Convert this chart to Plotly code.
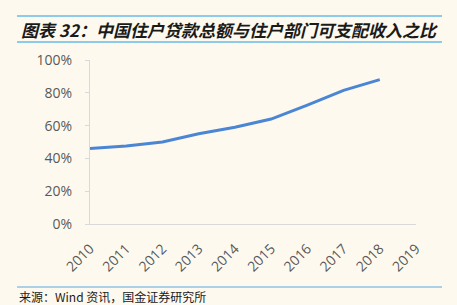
import plotly.graph_objects as go

years = ["2010", "2011", "2012", "2013", "2014", "2015", "2016", "2017", "2018", "2019"]
ratio = [0.46, 0.475, 0.50, 0.55, 0.59, 0.64, 0.725, 0.815, 0.88, None]
yticks = [0, 0.2, 0.4, 0.6, 0.8, 1.0]
ytick_labels = ["0%", "20%", "40%", "60%", "80%", "100%"]

title_text = "图表 32：中国住户贷款总额与住户部门可支配收入之比"
source_text = "来源：Wind 资讯，国金证券研究所"

W, H = 457, 305
L, R, T, B = 90, 41, 60, 81
pw, ph = W - L - R, H - T - B

def px(x):
    return (x - L) / pw

def py(y):
    return (H - B - y) / ph

bg = "#FEF9EF"
fig = go.Figure()
fig.add_trace(go.Scatter(
    x=years, y=ratio, mode="lines",
    line=dict(color="#4A86D4", width=3),
    hoverinfo="skip", showlegend=False,
))

fig.update_layout(
    width=W, height=H,
    margin=dict(l=L, r=R, t=T, b=B),
    paper_bgcolor=bg, plot_bgcolor=bg,
    font=dict(family="Noto Sans CJK SC, sans-serif"),
    xaxis=dict(
        type="category", showgrid=False, showline=True, linecolor="#D9D9D9", linewidth=1,
        ticks="", tickangle=-45, ticklabelstandoff=10,
        tickfont=dict(size=14, color="#595959", family="Open Sans, sans-serif"),
        fixedrange=True,
    ),
    yaxis=dict(
        range=[0, 1.0], tickvals=yticks, ticktext=ytick_labels, showgrid=False, zeroline=False,
        showline=True, linecolor="#D9D9D9", linewidth=1, ticks="outside", ticklen=4,
        tickcolor="#D9D9D9", tickfont=dict(size=14, color="#595959", family="Open Sans, sans-serif"),
        ticklabelstandoff=10,
    ),
    shapes=[
        dict(type="line", xref="paper", yref="paper", x0=px(17), x1=px(442), y0=py(16), y1=py(16),
             line=dict(color="#8DCBEA", width=2)),
        dict(type="line", xref="paper", yref="paper", x0=px(17), x1=px(442), y0=py(42), y1=py(42),
             line=dict(color="#8DCBEA", width=2)),
        dict(type="line", xref="paper", yref="paper", x0=px(17), x1=px(442), y0=py(287), y1=py(287),
             line=dict(color="#5BA8DD", width=1)),
    ],
    annotations=[
        dict(text="<b><i>" + title_text + "</i></b>", xref="paper", yref="paper",
             x=px(19), y=py(29), xanchor="left", yanchor="middle", showarrow=False,
             font=dict(size=17, color="#1a1a1a", family="Noto Sans CJK SC")),
        dict(text=source_text, xref="paper", yref="paper",
             x=px(17), y=py(296), xanchor="left", yanchor="middle", showarrow=False,
             font=dict(size=12, color="#1a1a1a", family="Noto Sans CJK SC")),
    ],
)

fig.write_html("out.html")
